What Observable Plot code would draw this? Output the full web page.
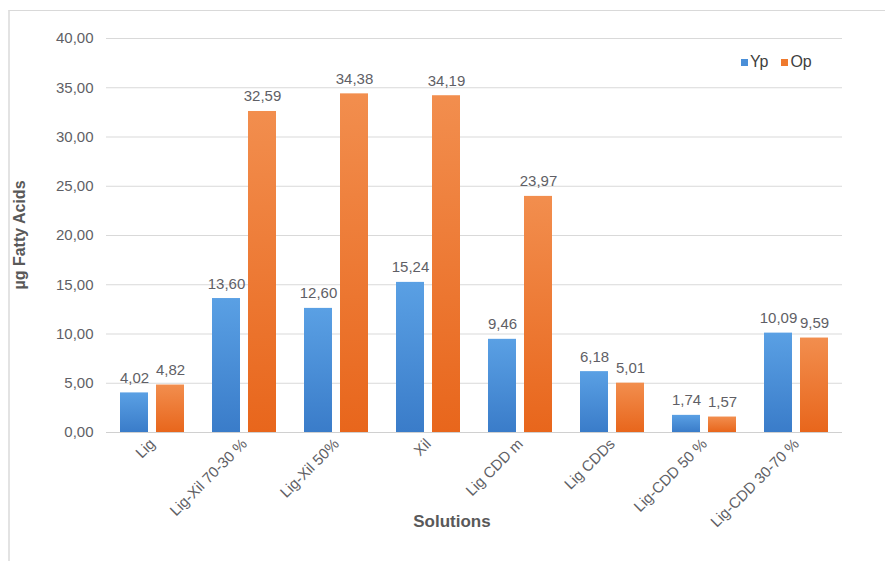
<!DOCTYPE html>
<html>
<head>
<meta charset="utf-8">
<script src="https://cdn.jsdelivr.net/npm/d3@7"></script>
<script src="https://cdn.jsdelivr.net/npm/@observablehq/plot@0.6"></script>
<style>
  body { margin: 0; background: #fff; }
  #wrap { position: relative; width: 885px; height: 561px; overflow: hidden; font-family: "Liberation Sans", Arial, sans-serif; }
  #frame { position: absolute; left: 8px; top: 10px; right: -2px; bottom: -2px; border-top: 1px solid #d9d9d9; border-left: 2px solid #e3e3e3; }
  .ov { position: absolute; white-space: nowrap; }
  #ylab { left: 20px; top: 235px; transform: translate(-50%, -50%) rotate(-90deg); font-weight: bold; font-size: 16px; color: #595959; }
  #xlab { left: 452px; top: 522px; transform: translate(-50%, -50%); font-weight: bold; font-size: 17px; color: #595959; }
  #legend { left: 741px; top: 53px; font-size: 16px; color: #404040; display: flex; align-items: center; }
  #legend .sw { display: inline-block; width: 7px; height: 7px; margin-right: 2px; }
  #legend .item { display: flex; align-items: center; margin-right: 13px; }
</style>
</head>
<body>
<div id="wrap">
  <div id="frame"></div>
  <div id="chart"></div>
  <div class="ov" id="ylab">µg Fatty Acids</div>
  <div class="ov" id="xlab">Solutions</div>
  <div class="ov" id="legend"></div>
</div>
<script>
const categories = ["Lig", "Lig-Xil 70-30 %", "Lig-Xil 50%", "Xil", "Lig CDD m", "Lig CDDs", "Lig-CDD 50 %", "Lig-CDD 30-70 %"];
const series = ["Yp", "Op"];
const ypValues = [4.02, 13.60, 12.60, 15.24, 9.46, 6.18, 1.74, 10.09];
const opValues = [4.82, 32.59, 34.38, 34.19, 23.97, 5.01, 1.57, 9.59];
const yTicks = [0, 5, 10, 15, 20, 25, 30, 35, 40];
const seriesColors = ["#4a8fd8", "#ef7a2e"];

const data = [];
categories.forEach((c, i) => {
  data.push({cat: c, series: "Yp", value: ypValues[i]});
  data.push({cat: c, series: "Op", value: opValues[i]});
});
const fmt = v => v.toFixed(2).replace(".", ",");

const chart = Plot.plot({
  width: 885,
  height: 561,
  marginTop: 38,
  marginBottom: 129,
  marginLeft: 104,
  marginRight: 42,
  style: {fontFamily: "Liberation Sans, Arial, sans-serif", fontSize: "15px", color: "#5f5f66", background: "transparent"},
  facet: {data, x: "cat", label: null},
  fx: {domain: categories, padding: 0, label: null, tickSize: 0, tickPadding: 9, tickRotate: -45},
  x: {domain: series, axis: null, paddingInner: 0.22, paddingOuter: 0.38},
  y: {domain: [0, 40], ticks: yTicks, tickFormat: fmt, label: null, tickSize: 0, tickPadding: 13},
  color: {domain: series, range: ["url(#gYp)", "url(#gOp)"]},
  marks: [
    Plot.ruleY(yTicks.filter(t => t > 0), {stroke: "#d9d9d9", strokeWidth: 1}),
    Plot.barY(data, {x: "series", y: "value", fill: "series"}),
    Plot.ruleY([0], {stroke: "#d0d0d0", strokeWidth: 1}),
    Plot.text(data, {x: "series", y: "value", text: d => fmt(d.value), dy: -10, lineAnchor: "bottom", fill: "#5f5f66", fontSize: 15})
  ]
});
document.getElementById("chart").appendChild(chart);

// gradients for bars
const svg = d3.select(chart.tagName.toLowerCase() === "svg" ? chart : chart.querySelector("svg"));
const defs = svg.insert("defs", ":first-child");
const grads = [["gYp", "#5aa0e4", "#3a7cc9"], ["gOp", "#f28e4e", "#e8661c"]];
grads.forEach(([id, top, bottom]) => {
  const g = defs.append("linearGradient").attr("id", id).attr("x1", 0).attr("y1", 0).attr("x2", 0).attr("y2", 1);
  g.append("stop").attr("offset", "0%").attr("stop-color", top);
  g.append("stop").attr("offset", "100%").attr("stop-color", bottom);
});

// legend
const legend = document.getElementById("legend");
series.forEach((s, i) => {
  const item = document.createElement("span");
  item.className = "item";
  const sw = document.createElement("span");
  sw.className = "sw";
  sw.style.background = seriesColors[i];
  item.appendChild(sw);
  item.appendChild(document.createTextNode(s));
  legend.appendChild(item);
});
</script>
</body>
</html>
